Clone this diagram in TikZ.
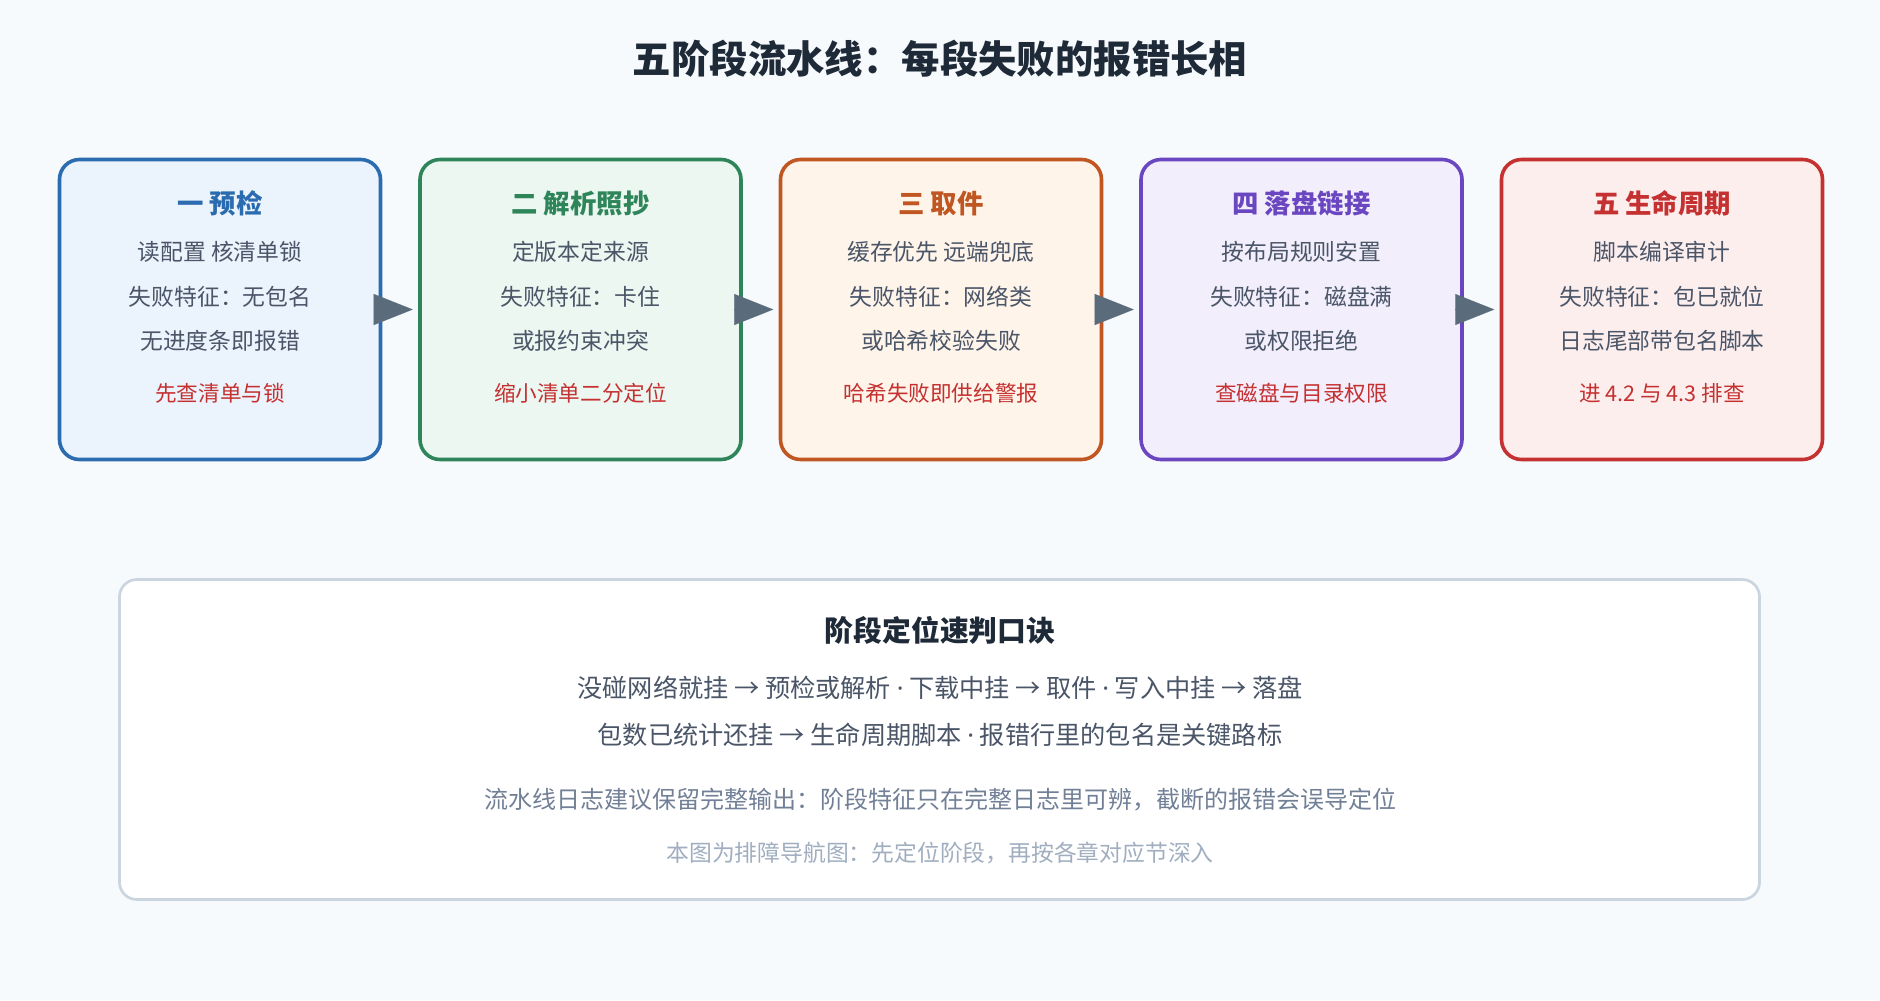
\documentclass[tikz,border=0pt]{standalone}
\usepackage{fontspec}
\setmainfont{Noto Sans CJK SC}
\newfontfamily\latinfont{Noto Sans}
\usetikzlibrary{calc,arrows.meta}

\definecolor{pagebg}{HTML}{F7FAFC}
\definecolor{headtext}{HTML}{1E2A38}
\definecolor{bodytext}{HTML}{4A5568}
\definecolor{notered}{HTML}{C53030}
\definecolor{arrowgray}{HTML}{5A6B7C}
\definecolor{blueline}{HTML}{2B6CB0}
\definecolor{bluefill}{HTML}{EBF3FC}
\definecolor{greenline}{HTML}{2F855A}
\definecolor{greenfill}{HTML}{EBF7F0}
\definecolor{orangeline}{HTML}{C05621}
\definecolor{orangefill}{HTML}{FEF4EA}
\definecolor{purpleline}{HTML}{6B46C1}
\definecolor{purplefill}{HTML}{F2EEFB}
\definecolor{redline}{HTML}{C53030}
\definecolor{redfill}{HTML}{FDEEEE}
\definecolor{panelline}{HTML}{CBD5E0}
\definecolor{hinttext}{HTML}{718096}
\definecolor{faintext}{HTML}{A0AEC0}

\newcommand{\sepdot}{{\latinfont ·}}

\tikzset{
  stagebox/.style 2 args={draw=#1, fill=#2, line width=2.7pt, rounded corners=15pt,
    minimum width=240.75pt, minimum height=225pt},
  stagetitle/.style={text=#1, font=\fontsize{19.8}{24}\selectfont\bfseries, inner sep=0pt},
  stageline/.style={text=bodytext, font=\fontsize{17.1}{20}\selectfont, inner sep=0pt},
  stagenote/.style={text=notered, font=\fontsize{16.2}{20}\selectfont, inner sep=0pt},
  flow/.style={draw=arrowgray, fill=arrowgray, line width=0.1pt,
    -{Triangle[length=29.25pt,width=23.25pt]}, shorten >=4.1pt},
}

\begin{document}
\begin{tikzpicture}[x=0.75pt,y=-0.75pt]
    % fondo
    \fill[pagebg] (0,0) rectangle (1880,1000);
    \useasboundingbox (0,0) rectangle (1880,1000);

    % titulo
    \node[text=headtext, font=\fontsize{28.8}{34}\selectfont\bfseries, inner sep=0pt] (head) at (940,59) {五阶段流水线：每段失败的报错长相};

    % etapa 1
    \node[stagebox={blueline}{bluefill}] (s1) at (220,309.5) {};
    \node[stagetitle=blueline] (s1t) at ($(s1.north)+(0,45.5)$) {一 预检};
    \node[stageline] (s1a) at ($(s1.north)+(0,94.5)$) {读配置 核清单锁};
    \node[stageline] (s1b) at ($(s1.north)+(0,139)$) {失败特征：无包名};
    \node[stageline] (s1c) at ($(s1.north)+(0,183)$) {无进度条即报错};
    \node[stagenote] (s1n) at ($(s1.north)+(0,235.5)$) {先查清单与锁};

    % etapa 2
    \node[stagebox={greenline}{greenfill}] (s2) at (580.5,309.5) {};
    \node[stagetitle=greenline] (s2t) at ($(s2.north)+(0,45.5)$) {二 解析照抄};
    \node[stageline] (s2a) at ($(s2.north)+(0,94.5)$) {定版本定来源};
    \node[stageline] (s2b) at ($(s2.north)+(0,139)$) {失败特征：卡住};
    \node[stageline] (s2c) at ($(s2.north)+(0,183)$) {或报约束冲突};
    \node[stagenote] (s2n) at ($(s2.north)+(0,235.5)$) {缩小清单二分定位};

    % etapa 3
    \node[stagebox={orangeline}{orangefill}] (s3) at (941,309.5) {};
    \node[stagetitle=orangeline] (s3t) at ($(s3.north)+(0,45.5)$) {三 取件};
    \node[stageline] (s3a) at ($(s3.north)+(0,94.5)$) {缓存优先 远端兜底};
    \node[stageline] (s3b) at ($(s3.north)+(0,139)$) {失败特征：网络类};
    \node[stageline] (s3c) at ($(s3.north)+(0,183)$) {或哈希校验失败};
    \node[stagenote] (s3n) at ($(s3.north)+(0,235.5)$) {哈希失败即供给警报};

    % etapa 4
    \node[stagebox={purpleline}{purplefill}] (s4) at (1301.5,309.5) {};
    \node[stagetitle=purpleline] (s4t) at ($(s4.north)+(0,45.5)$) {四 落盘链接};
    \node[stageline] (s4a) at ($(s4.north)+(0,94.5)$) {按布局规则安置};
    \node[stageline] (s4b) at ($(s4.north)+(0,139)$) {失败特征：磁盘满};
    \node[stageline] (s4c) at ($(s4.north)+(0,183)$) {或权限拒绝};
    \node[stagenote] (s4n) at ($(s4.north)+(0,235.5)$) {查磁盘与目录权限};

    % etapa 5
    \node[stagebox={redline}{redfill}] (s5) at (1662,309.5) {};
    \node[stagetitle=redline] (s5t) at ($(s5.north)+(0,45.5)$) {五 生命周期};
    \node[stageline] (s5a) at ($(s5.north)+(0,94.5)$) {脚本编译审计};
    \node[stageline] (s5b) at ($(s5.north)+(0,139)$) {失败特征：包已就位};
    \node[stageline] (s5c) at ($(s5.north)+(0,183)$) {日志尾部带包名脚本};
    \node[stagenote] (s5n) at ($(s5.north)+(0,235.5)$) {进 4.2 与 4.3 排查};

    % flechas
    \draw[flow] (s1.east) -- (s2.west);
    \draw[flow] (s2.east) -- (s3.west);
    \draw[flow] (s3.east) -- (s4.west);
    \draw[flow] (s4.east) -- (s5.west);

    % cuadro inferior
    \node[draw=panelline, fill=white, line width=2pt, rounded corners=13pt,
      minimum width=1230pt, minimum height=240pt] (panel) at (939.5,739.5) {};
    \node[text=headtext, font=\fontsize{21.6}{26}\selectfont\bfseries, inner sep=0pt] (pt) at (940,630.5) {阶段定位速判口诀};
    \node[text=bodytext, font=\fontsize{18.9}{23}\selectfont, inner sep=0pt] (pa) at (940,688) {没碰网络就挂 → 预检或解析 \sepdot{} 下载中挂 → 取件 \sepdot{} 写入中挂 → 落盘};
    \node[text=bodytext, font=\fontsize{18.9}{23}\selectfont, inner sep=0pt] (pb) at (940,734.7) {包数已统计还挂 → 生命周期脚本 \sepdot{} 报错行里的包名是关键路标};
    \node[text=hinttext, font=\fontsize{18}{22}\selectfont, inner sep=0pt] (pc) at (940,799.5) {流水线日志建议保留完整输出：阶段特征只在完整日志里可辨，截断的报错会误导定位};
    \node[text=faintext, font=\fontsize{17.1}{21}\selectfont, inner sep=0pt] (pd) at (940,853) {本图为排障导航图：先定位阶段，再按各章对应节深入};
  \end{tikzpicture}
\end{document}
